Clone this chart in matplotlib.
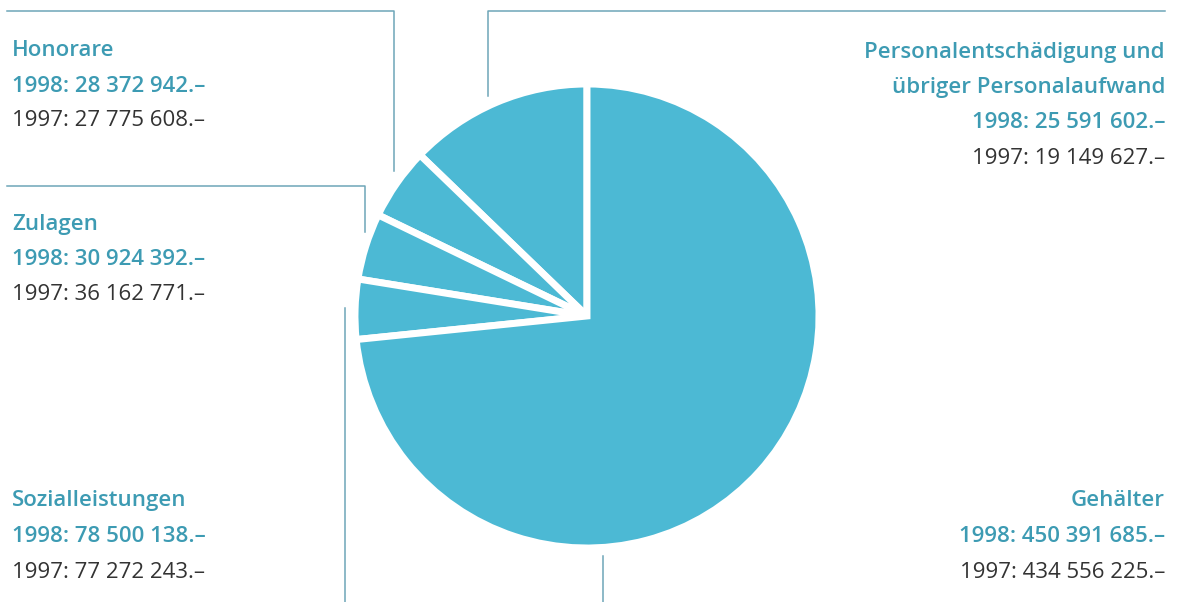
import matplotlib.pyplot as plt

# Personalaufwand 1998 / 1997 (CHF)
categories = ['Sozialleistungen', 'Zulagen', 'Honorare',
              'Personalentschädigung und\nübriger Personalaufwand', 'Gehälter']
values_1998 = [78500138, 30924392, 28372942, 25591602, 450391685]
values_1997 = [77272243, 36162771, 27775608, 19149627, 434556225]

W, H = 1178, 602
TEAL = '#3d9bb3'
PIE = '#4cb9d4'
DARK = '#333333'
LINE = '#6ea6b8'


def fmt(v):
    return f'{v:,}'.replace(',', ' ') + '.\u2013'


def y(px):
    # picture rows are counted from the top
    return H - px


fig = plt.figure(figsize=(W / 100, H / 100), dpi=100)
ax = fig.add_axes([0, 0, 1, 1])
ax.pie(values_1998, startangle=90, counterclock=True, colors=[PIE] * 5,
       center=(587, y(316)), radius=232,
       wedgeprops=dict(edgecolor='white', linewidth=5))
ax.set_xlim(0, W)
ax.set_ylim(0, H)
ax.set_aspect('equal')
ax.axis('off')

# label blocks: x, alignment, baselines
blocks = {
    'Honorare': (12, 'left', [56, 92, 126]),
    'Zulagen': (12, 'left', [230, 265, 300]),
    'Sozialleistungen': (12, 'left', [506, 542, 578]),
    'Gehälter': (1165, 'right', [506, 542, 578]),
}
font = 'Open Sans'
fs = 16
for name, v98, v97 in zip(categories, values_1998, values_1997):
    if name in blocks:
        x, ha, ys = blocks[name]
        head = [name]
    else:
        x, ha, ys = 1165, 'right', [58, 93, 128, 164]
        head = name.split('\n')
    for i, line in enumerate(head):
        ax.text(x, y(ys[i]), line, ha=ha, va='baseline', color=TEAL,
                fontsize=fs, fontweight='semibold', family=font)
    ax.text(x, y(ys[len(head)]), '1998: ' + fmt(v98), ha=ha, va='baseline',
            color=TEAL, fontsize=fs, fontweight='semibold', family=font)
    ax.text(x, y(ys[len(head) + 1]), '1997: ' + fmt(v97), ha=ha, va='baseline',
            color=DARK, fontsize=fs, family=font)

# leader lines
lw = 1.1
ax.plot([7, 394, 394], [y(11), y(11), y(171)], color=LINE, lw=lw)
ax.plot([7, 365, 365], [y(186), y(186), y(232)], color=LINE, lw=lw)
ax.plot([345, 345], [y(308), y(602)], color=LINE, lw=lw)
ax.plot([488, 488, 1165], [y(96), y(11), y(11)], color=LINE, lw=lw)
ax.plot([603, 603], [y(556), y(602)], color=LINE, lw=lw)

fig.savefig('out.png', dpi=100, facecolor='white')
